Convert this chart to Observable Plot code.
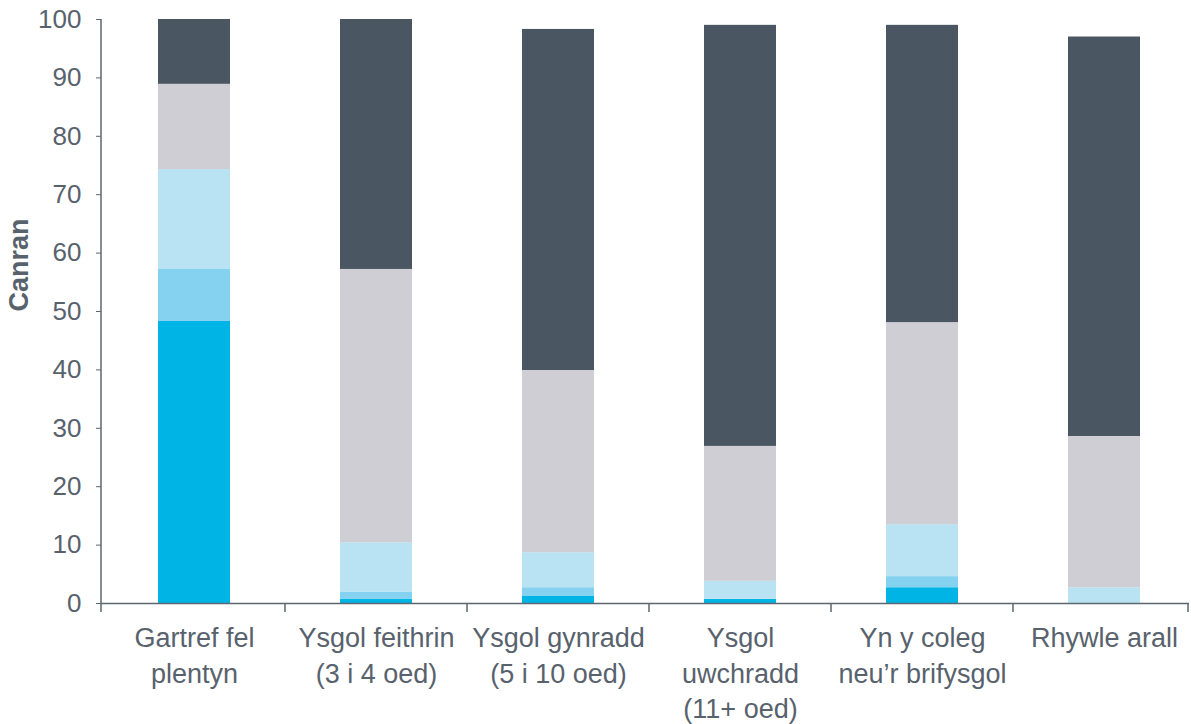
<!DOCTYPE html>
<html>
<head>
<meta charset="utf-8">
<script src="https://cdn.jsdelivr.net/npm/d3@7"></script>
<script src="https://cdn.jsdelivr.net/npm/@observablehq/plot@0.6"></script>
<style>
  html, body { margin: 0; padding: 0; background: #fff; }
  #chart svg { display: block; }
</style>
</head>
<body>
<div id="chart"></div>
<script>
// Categories (x axis)
const categories = [
  "Gartref fel\nplentyn",
  "Ysgol feithrin\n(3 i 4 oed)",
  "Ysgol gynradd\n(5 i 10 oed)",
  "Ysgol\nuwchradd\n(11+ oed)",
  "Yn y coleg\nneu’r brifysgol",
  "Rhywle arall"
];

// Series names, bottom to top
const series = ["Cyfres 1", "Cyfres 2", "Cyfres 3", "Cyfres 4", "Cyfres 5"];
const seriesColors = ["#00b4e6", "#84d1f0", "#b9e3f2", "#ceced4", "#4b5663"];

// Values per series (percent), one per category
const series1 = [48.3, 0.7, 1.2, 0.7, 2.7, 0];
const series2 = [9.0, 1.2, 1.5, 0, 1.9, 0];
const series3 = [17.0, 8.5, 6.0, 3.1, 8.9, 2.7];
const series4 = [14.6, 46.8, 31.2, 23.1, 34.6, 25.9];
const series5 = [11.1, 42.8, 58.4, 72.1, 50.9, 68.4];

const yTicks = [0, 10, 20, 30, 40, 50, 60, 70, 80, 90, 100];
const yLabel = "Canran";

const allSeries = [series1, series2, series3, series4, series5];
const rows = [];
allSeries.forEach((vals, si) => {
  vals.forEach((v, ci) => rows.push({cat: categories[ci], series: series[si], value: v}));
});

const axisColor = "#5d6770";
const textColor = "#58626d";

// boundary ticks on x axis and y axis line, derived from scales
function axisLines(index, scales, values, dimensions) {
  const {width, marginLeft, marginRight} = dimensions;
  const y0 = scales.y(0);
  const bw = scales.x.bandwidth ? scales.x.bandwidth() : 0;
  const centers = categories.map(c => scales.x(c) + bw / 2);
  const bounds = [marginLeft];
  for (let i = 0; i < centers.length - 1; i++) bounds.push((centers[i] + centers[i + 1]) / 2);
  bounds.push(width - marginRight - 1);
  const g = d3.create("svg:g").attr("stroke", axisColor).attr("fill", "none");
  g.append("line")
    .attr("x1", marginLeft).attr("x2", marginLeft)
    .attr("y1", scales.y(100)).attr("y2", y0)
    .attr("stroke-width", 1.5);
  g.selectAll("line.b").data(bounds).join("line")
    .attr("class", "b")
    .attr("x1", d => d).attr("x2", d => d)
    .attr("y1", y0).attr("y2", y0 + 9)
    .attr("stroke-width", 1.5);
  return g.node();
}

const chart = Plot.plot({
  width: 1191,
  height: 724,
  marginLeft: 101,
  marginRight: 2,
  marginTop: 19,
  marginBottom: 121,
  style: {
    fontFamily: "'Liberation Sans', Arial, sans-serif",
    fontSize: "26px",
    color: textColor,
    background: "white"
  },
  x: {domain: categories, paddingInner: 0.606, paddingOuter: 0.282, align: 0.533, axis: null},
  y: {domain: [0, 100], axis: null},
  color: {domain: series, range: seriesColors},
  marks: [
    Plot.barY(rows, {x: "cat", y: "value", fill: "series", order: series}),
    Plot.axisY({ticks: yTicks, tickSize: 5, tickPadding: 15, label: null, stroke: axisColor, fontSize: 26, tickFormat: d => String(d)}),
    Plot.axisX({tickSize: 0, tickPadding: 19, label: null, lineHeight: 1.3, fontSize: 27, tickFormat: d => d}),
    Plot.ruleY([0], {stroke: axisColor, strokeWidth: 1.5}),
    axisLines,
    Plot.text([yLabel], {text: d => d, frameAnchor: "left", rotate: -90, dx: -82, fontWeight: "bold", fontSize: 27, fill: textColor})
  ]
});

document.getElementById("chart").appendChild(chart);
</script>
</body>
</html>
